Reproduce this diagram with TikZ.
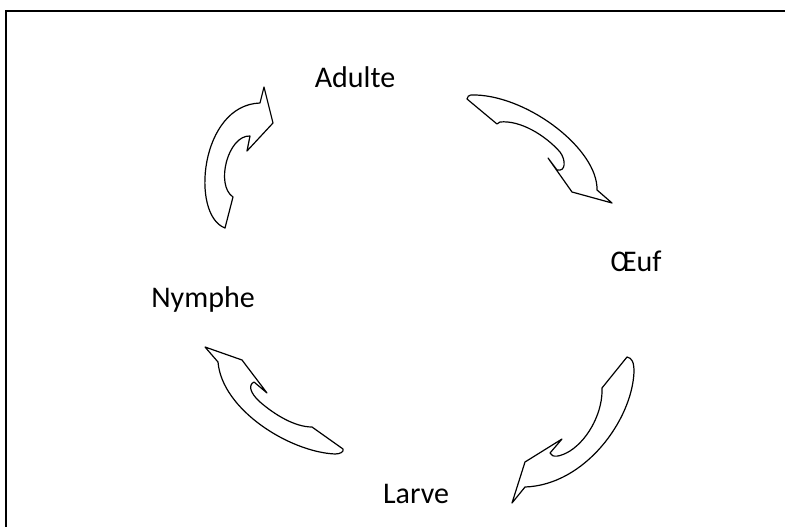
\documentclass[tikz,border=0pt]{standalone}
\usepackage{fontspec}
\setmainfont{Carlito}
\usetikzlibrary{positioning}

\begin{document}
\begin{tikzpicture}[x=0.75pt,y=-0.75pt,
    stage/.style={font=\fontsize{22.5}{27}\selectfont,anchor=base,inner sep=0pt},
    cyclearrow/.style={draw=black,fill=white,line width=0.9pt,line join=round},
    frameline/.style={draw=black,line width=1.6pt}]
  \useasboundingbox (0,0) rectangle (785,527);
  \clip (0,0) rectangle (785,527);
  % cadre
  \draw[frameline] (6,540) -- (6,11) -- (800,11);

  % etapes du cycle
  \node[stage] (adulte) at (355,88) {Adulte};
  \node[stage] (oeuf) at (636,272) {Œuf};
  \node[stage] (larve) at (416,503) {Larve};
  \node[stage] (nymphe) at (203,307) {Nymphe};

  % Nymphe -> Adulte
  \draw[cyclearrow] (225,228) .. controls (190,215) and (200,105) .. (260,103)
    -- (264,87) -- (273,123) -- (247,151) -- (250,136)
    .. controls (228,135) and (215,185) .. (233,197) -- cycle;
  % Adulte -> Oeuf
  \draw[cyclearrow] (467,99) .. controls (468,94) and (472,95) .. (476,95)
    .. controls (530,97) and (598,150) .. (597,190)
    -- (612,203) -- (572,192) -- (548,158) -- (557,170)
    .. controls (566,172) and (566,160) .. (560,152)
    .. controls (545,135) and (520,120) .. (500,122)
    -- (497,124) -- cycle;
  % Oeuf -> Larve
  \draw[cyclearrow] (627,357) .. controls (632,358) and (634,362) .. (634,372)
    .. controls (632,420) and (585,485) .. (525,487)
    -- (512,503) -- (525,462) -- (562,439) -- (550,453)
    .. controls (552,458) and (560,457) .. (570,451)
    .. controls (590,438) and (603,410) .. (602,388) -- cycle;
  % Larve -> Nymphe
  \draw[cyclearrow] (205,347) -- (242,360) -- (267,393) -- (254,382)
    .. controls (248,385) and (250,393) .. (260,402)
    .. controls (275,415) and (295,427) .. (312,427)
    -- (343,449) .. controls (344,452) and (340,454) .. (335,454)
    .. controls (290,452) and (222,410) .. (218,362) -- cycle;
\end{tikzpicture}
\end{document}
